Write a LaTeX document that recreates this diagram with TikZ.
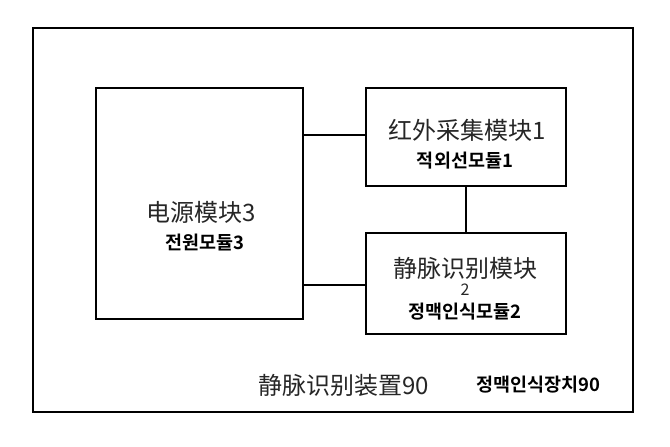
\documentclass[tikz,border=0pt]{standalone}
\usepackage{fontspec}
\newfontfamily\zhfont{Noto Sans CJK SC}[Scale=1]
\newfontfamily\kofont{Noto Sans CJK KR}[BoldFont={* Bold}]
\begin{document}
\begin{tikzpicture}[%
        x=1pt, y=-1pt,
        modbox/.style={draw, line width=2pt},
        zhtext/.style={font=\zhfont\fontsize{24}{26}\selectfont, text=black!85},
        kotext/.style={font=\kofont\bfseries\fontsize{18.5}{20}\selectfont}
    ]
        \useasboundingbox[fill=white] (0,0) rectangle (670,447);
        \draw [modbox] (33,28) rectangle (633,412);

        % modules
        \node [modbox, minimum width=207, minimum height=231, anchor=north west] (power) at (95,87) {};
        \node [modbox, minimum width=200, minimum height=98, anchor=north west] (ir) at (365,87) {};
        \node [modbox, minimum width=200, minimum height=101, anchor=north west] (vein) at (365,232) {};

        \coordinate (p1) at (power.east |- 0,135);
        \coordinate (p2) at (power.east |- 0,285);
        \draw [line width=2pt] (p1) -- (ir.west |- p1);
        \draw [line width=2pt] (p2) -- (vein.west |- p2);
        \draw [line width=2pt] (ir.south) -- (vein.north);

        % labels
        \node [zhtext] (irzh) at (467,130) {红外采集模块1};
        \node [kotext] (irko) at (465,161) {적외선모듈1};
        \node [zhtext] (powzh) at (201,212) {电源模块3};
        \node [kotext] (powko) at (205,243) {전원모듈3};
        \node [zhtext] (veinzh) at (465,268) {静脉识别模块};
        \node [zhtext, font=\zhfont\fontsize{16}{18}\selectfont] (veinnum) at (465,290) {2};
        \node [kotext] (veinko) at (465,312) {정맥인식모듈2};
        \node [zhtext, anchor=west] (devzh) at (255,385) {静脉识别装置90};
        \node [kotext, anchor=west] (devko) at (473,385) {정맥인식장치90};
    \end{tikzpicture}
\end{document}
